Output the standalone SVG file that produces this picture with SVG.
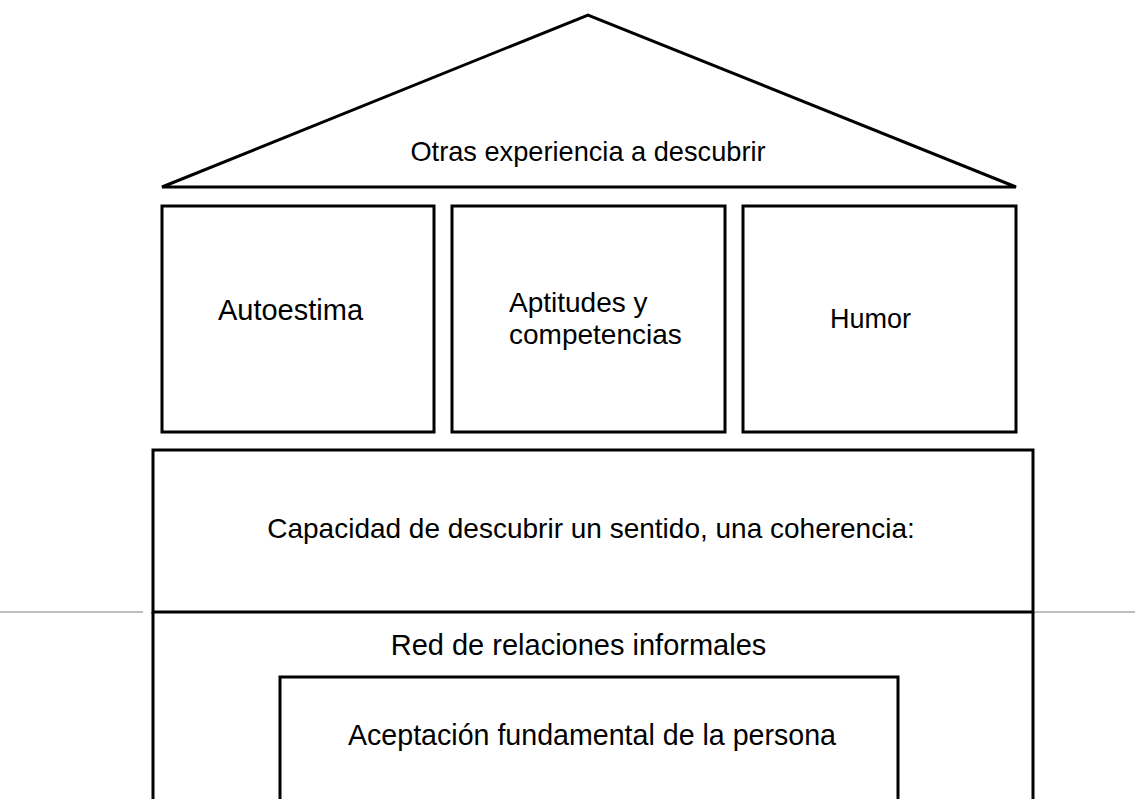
<svg xmlns="http://www.w3.org/2000/svg" width="1135" height="799" viewBox="0 0 1135 799">
  <style>
    .shape { fill: #ffffff; stroke: #000000; stroke-width: 3; stroke-linejoin: miter; }
    .edge { fill: none; stroke: #000000; stroke-width: 3; }
    .guide { fill: none; stroke: #7f7f7f; stroke-width: 1.2; }
    .label { font-family: "Liberation Sans", Arial, sans-serif; font-size: 28px; fill: #000000; }
    .mid { text-anchor: middle; }
  </style>
  <rect x="0" y="0" width="1135" height="799" fill="#ffffff"/>

  <!-- roof -->
  <g id="roof">
    <polygon class="shape" points="162,187 588,15 1016,187"/>
    <text class="label mid" x="588" y="161" style="font-size:27.2px">Otras experiencia a descubrir</text>
  </g>

  <!-- pillars -->
  <g id="autoestima">
    <rect class="shape" x="162" y="206" width="272" height="226"/>
    <text class="label mid" x="290.5" y="320" style="font-size:29px">Autoestima</text>
  </g>
  <g id="aptitudes">
    <rect class="shape" x="452" y="206" width="273" height="226"/>
    <text class="label" x="509" y="312">Aptitudes y</text>
    <text class="label" x="509" y="344">competencias</text>
  </g>
  <g id="humor">
    <rect class="shape" x="743" y="206" width="273" height="226"/>
    <text class="label" x="830" y="328" style="font-size:27px">Humor</text>
  </g>

  <!-- foundation -->
  <g id="sentido">
    <rect class="shape" x="153" y="450" width="880" height="162"/>
    <text class="label mid" x="591" y="538">Capacidad de descubrir un sentido, una coherencia:</text>
  </g>
  <g id="red">
    <path class="edge" d="M153,612 V802 M1033,612 V802"/>
    <text class="label mid" x="578.5" y="655" style="font-size:29px">Red de relaciones informales</text>
  </g>
  <g id="aceptacion">
    <path class="edge" d="M280,802 V677 H898 V802"/>
    <text class="label mid" x="592" y="745" style="font-size:28.6px">Aceptación fundamental de la persona</text>
  </g>

  <!-- ground line -->
  <g id="connectors">
    <line class="guide" x1="0" y1="612" x2="143" y2="612"/>
    <line class="guide" x1="1035" y1="612" x2="1135" y2="612"/>
  </g>
</svg>
